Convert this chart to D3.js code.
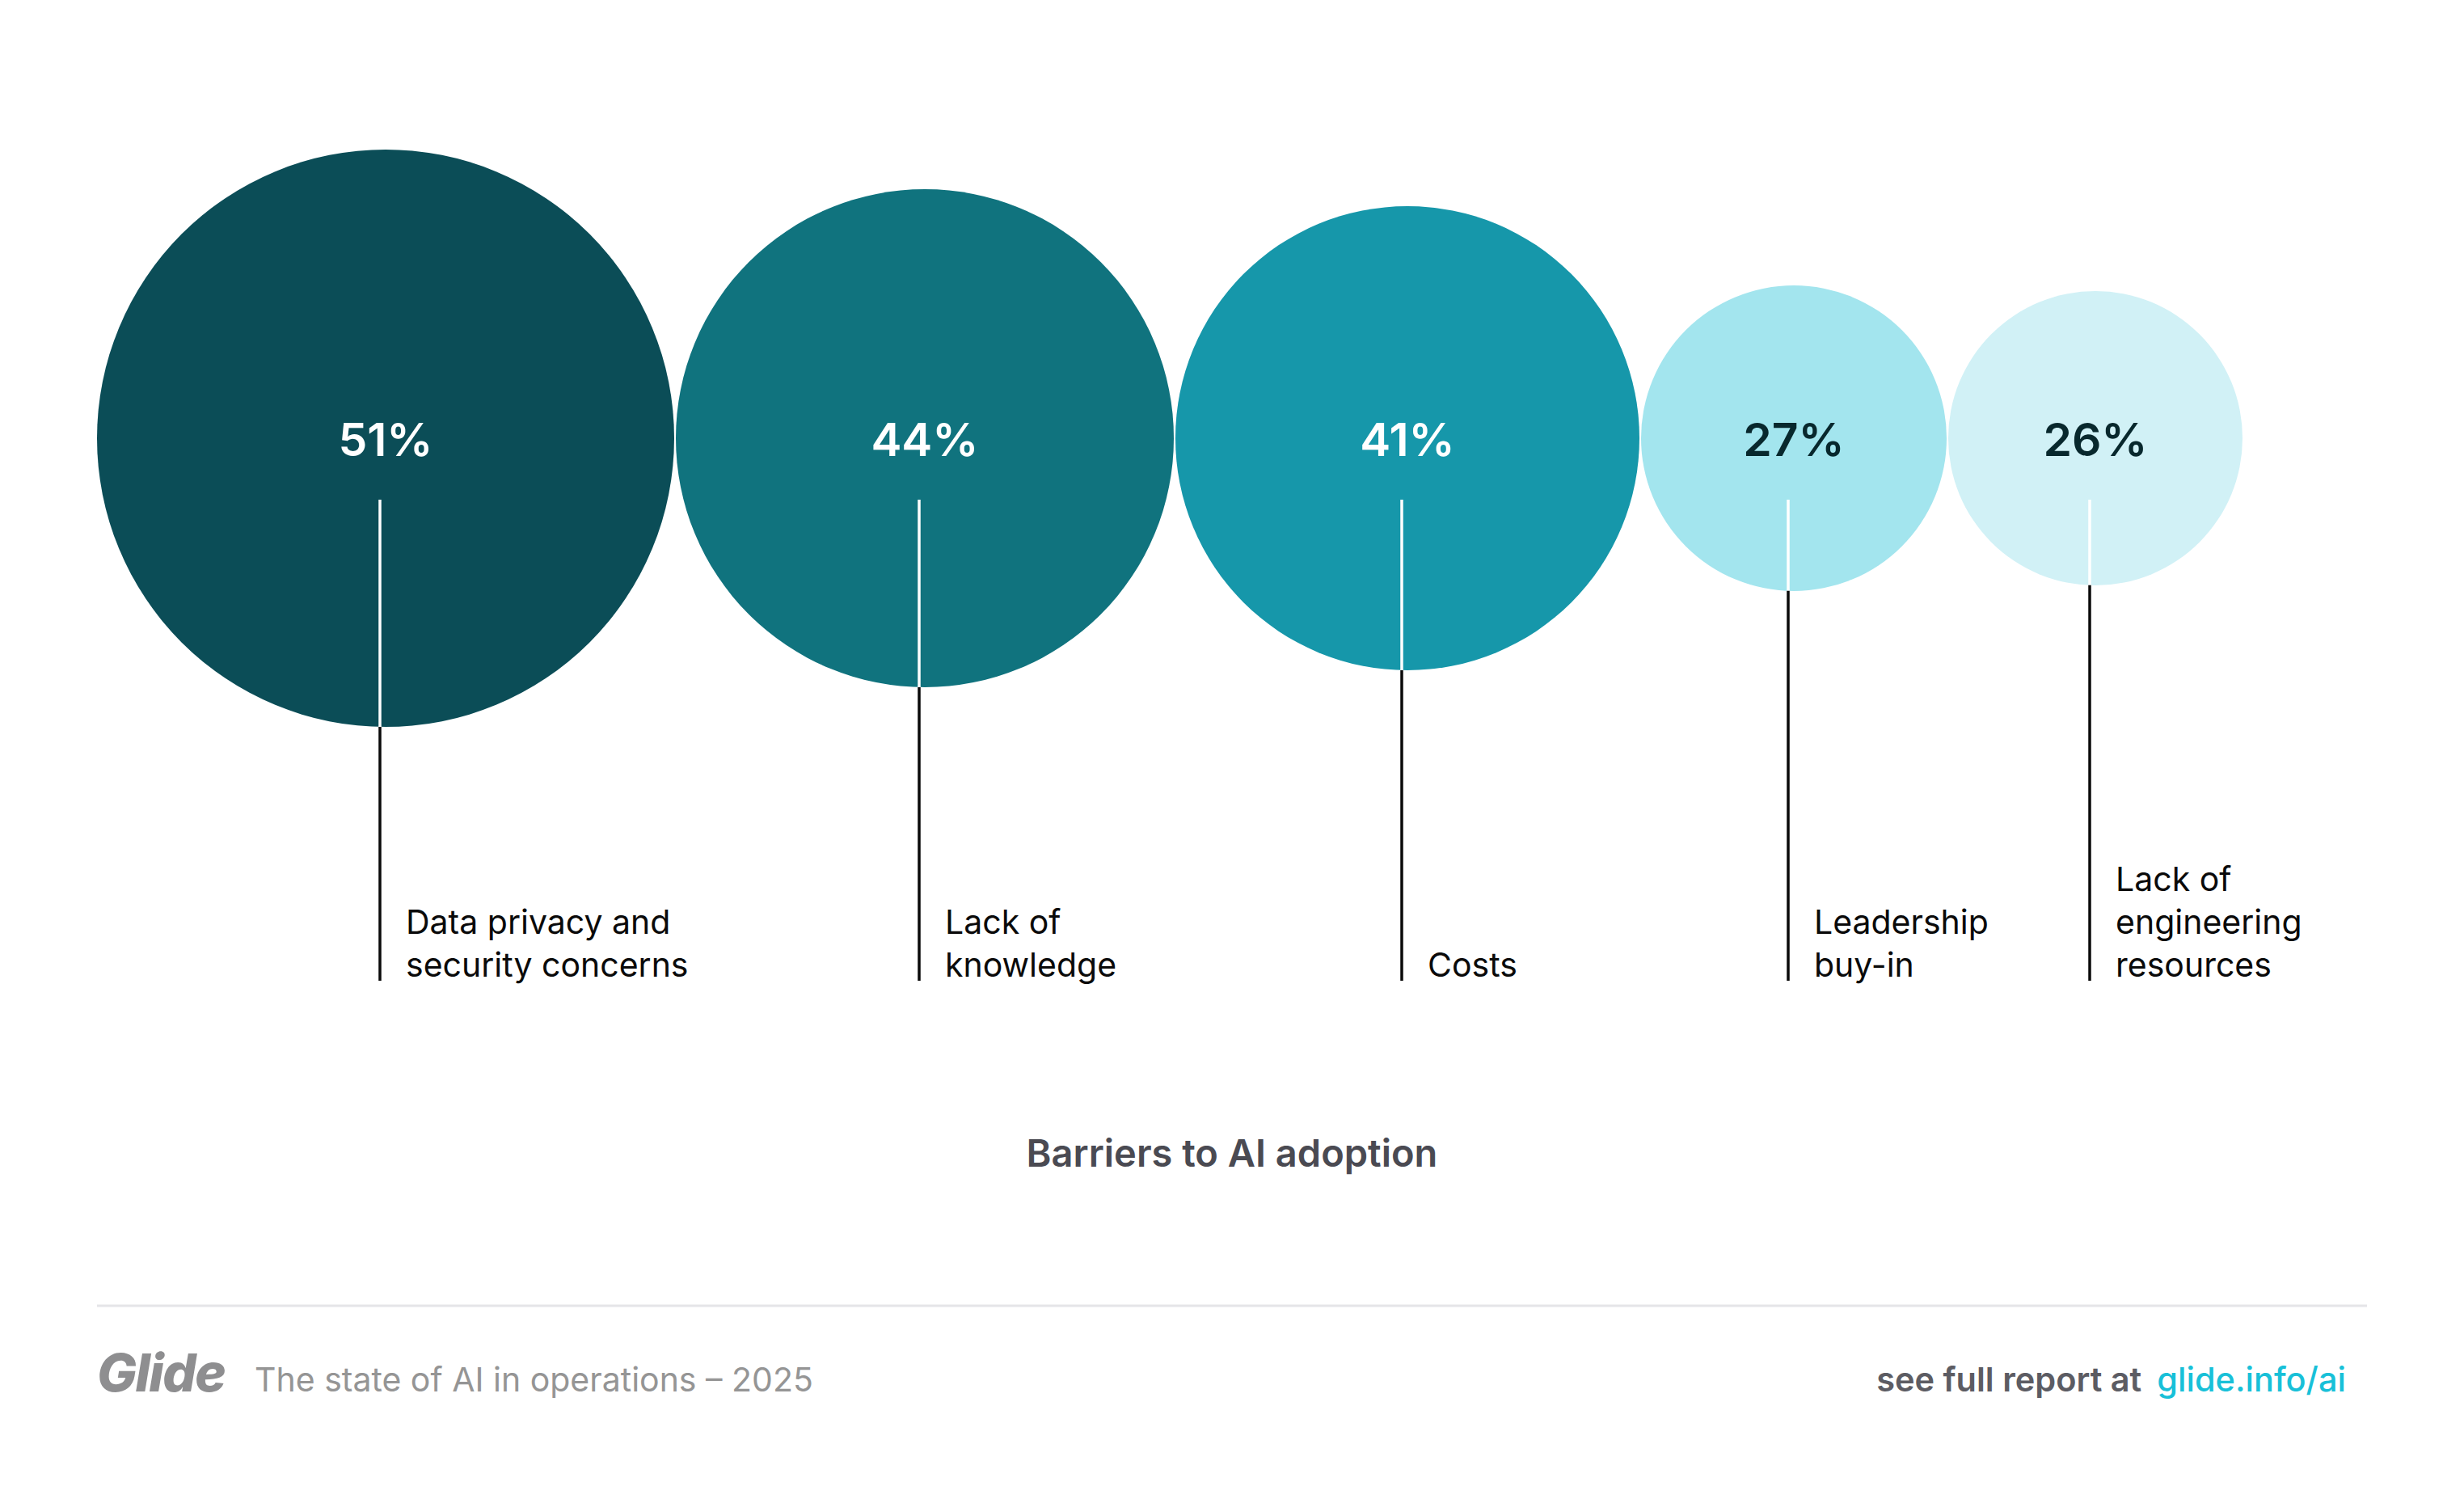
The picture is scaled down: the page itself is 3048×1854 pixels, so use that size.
<!DOCTYPE html>
<html>
<head>
<meta charset="utf-8">
<script src="https://cdn.jsdelivr.net/npm/d3@7"></script>
<style>
  html, body { margin: 0; padding: 0; background: #ffffff; }
  svg { display: block; font-family: Inter, "Noto Sans", sans-serif; }
</style>
</head>
<body>
<svg id="chart" width="3048" height="1854"></svg>
<script>
// ---- data ----
const categories = [
  ["Data privacy and", "security concerns"],
  ["Lack of", "knowledge"],
  ["Costs"],
  ["Leadership", "buy-in"],
  ["Lack of", "engineering", "resources"]
];
const values = [51, 44, 41, 27, 26];
const valueLabels = ["51%", "44%", "41%", "27%", "26%"];
const title = "Barriers to AI adoption";
const footerBrand = "Glide";
const footerSubtitle = "The state of AI in operations \u2013 2025";
const footerCta = "see full report at";
const footerLink = "glide.info/ai";

// ---- styles ----
const fillScale = d3.scaleOrdinal()
  .domain(d3.range(values.length))
  .range(["#0b4d57", "#10737e", "#1697aa", "#a3e5ee", "#d1f1f6"]);
const textScale = d3.scaleOrdinal()
  .domain(d3.range(values.length))
  .range(["#ffffff", "#ffffff", "#ffffff", "#08282d", "#08282d"]);

const svg = d3.select("#chart");
const W = 3048;

// radius proportional to value
const r = d3.scaleLinear().domain([0, 51]).range([0, 357]);

const startX = 120, gap = 2, cy = 542;
let acc = startX;
const nodes = values.map((v, i) => {
  const rad = r(v);
  const cx = acc + rad;
  acc = cx + rad + gap;
  return { i, v, rad, cx, label: categories[i], text: valueLabels[i] };
});

const lineTop = 618, lineBottom = 1213, lineOffset = -7;
const labelBottom = 1208, lineHeight = 53;

const g = svg.append("g");

const node = g.selectAll("g.node").data(nodes).join("g").attr("class", "node");

node.append("circle")
  .attr("cx", d => d.cx)
  .attr("cy", cy)
  .attr("r", d => d.rad)
  .attr("fill", d => fillScale(d.i));

const edgeY = d => cy + Math.sqrt(d.rad * d.rad - lineOffset * lineOffset);

// white part inside circle
node.append("line")
  .attr("x1", d => d.cx + lineOffset).attr("x2", d => d.cx + lineOffset)
  .attr("y1", lineTop).attr("y2", edgeY)
  .attr("stroke", "#ffffff").attr("stroke-width", 3.5);

// black part below circle
node.append("line")
  .attr("x1", d => d.cx + lineOffset).attr("x2", d => d.cx + lineOffset)
  .attr("y1", edgeY).attr("y2", lineBottom)
  .attr("stroke", "#0a0a0a").attr("stroke-width", 3.5);

node.append("text")
  .attr("x", d => d.cx)
  .attr("y", cy + 22)
  .attr("text-anchor", "middle")
  .attr("font-size", 57)
  .attr("font-weight", 600)
  .attr("fill", d => textScale(d.i))
  .text(d => d.text);

node.append("text")
  .attr("font-size", 41)
  .attr("font-weight", 400)
  .attr("fill", "#0a0a0a")
  .each(function(d) {
    const t = d3.select(this);
    const n = d.label.length;
    d.label.forEach((line, k) => {
      t.append("tspan")
        .attr("x", d.cx + lineOffset + 32)
        .attr("y", labelBottom - (n - 1 - k) * lineHeight)
        .text(line);
    });
  });

// title
svg.append("text")
  .attr("x", W / 2)
  .attr("y", 1443)
  .attr("text-anchor", "middle")
  .attr("font-size", 47)
  .attr("font-weight", 600)
  .attr("fill", "#4a4a52")
  .text(title);

// separator
svg.append("line")
  .attr("x1", 120).attr("x2", 2928)
  .attr("y1", 1615).attr("y2", 1615)
  .attr("stroke", "#e5e5e8").attr("stroke-width", 3);

// footer
svg.append("text")
  .attr("x", 120).attr("y", 1721)
  .attr("font-size", 65)
  .attr("font-weight", 800)
  .attr("font-style", "italic")
  .attr("letter-spacing", -1.5)
  .attr("fill", "#8e8e90")
  .text(footerBrand);

svg.append("text")
  .attr("x", 315).attr("y", 1721)
  .attr("font-size", 41)
  .attr("font-weight", 400)
  .attr("fill", "#959595")
  .text(footerSubtitle);

const linkText = svg.append("text")
  .attr("x", 2902).attr("y", 1721)
  .attr("text-anchor", "end")
  .attr("font-size", 41.5)
  .attr("font-weight", 500)
  .attr("fill", "#18c0d8")
  .text(footerLink);

const linkW = linkText.node().getComputedTextLength();
svg.append("text")
  .attr("x", 2902 - linkW - 19).attr("y", 1721)
  .attr("text-anchor", "end")
  .attr("font-size", 41.5)
  .attr("font-weight", 600)
  .attr("fill", "#5c5c63")
  .text(footerCta);
</script>
</body>
</html>
